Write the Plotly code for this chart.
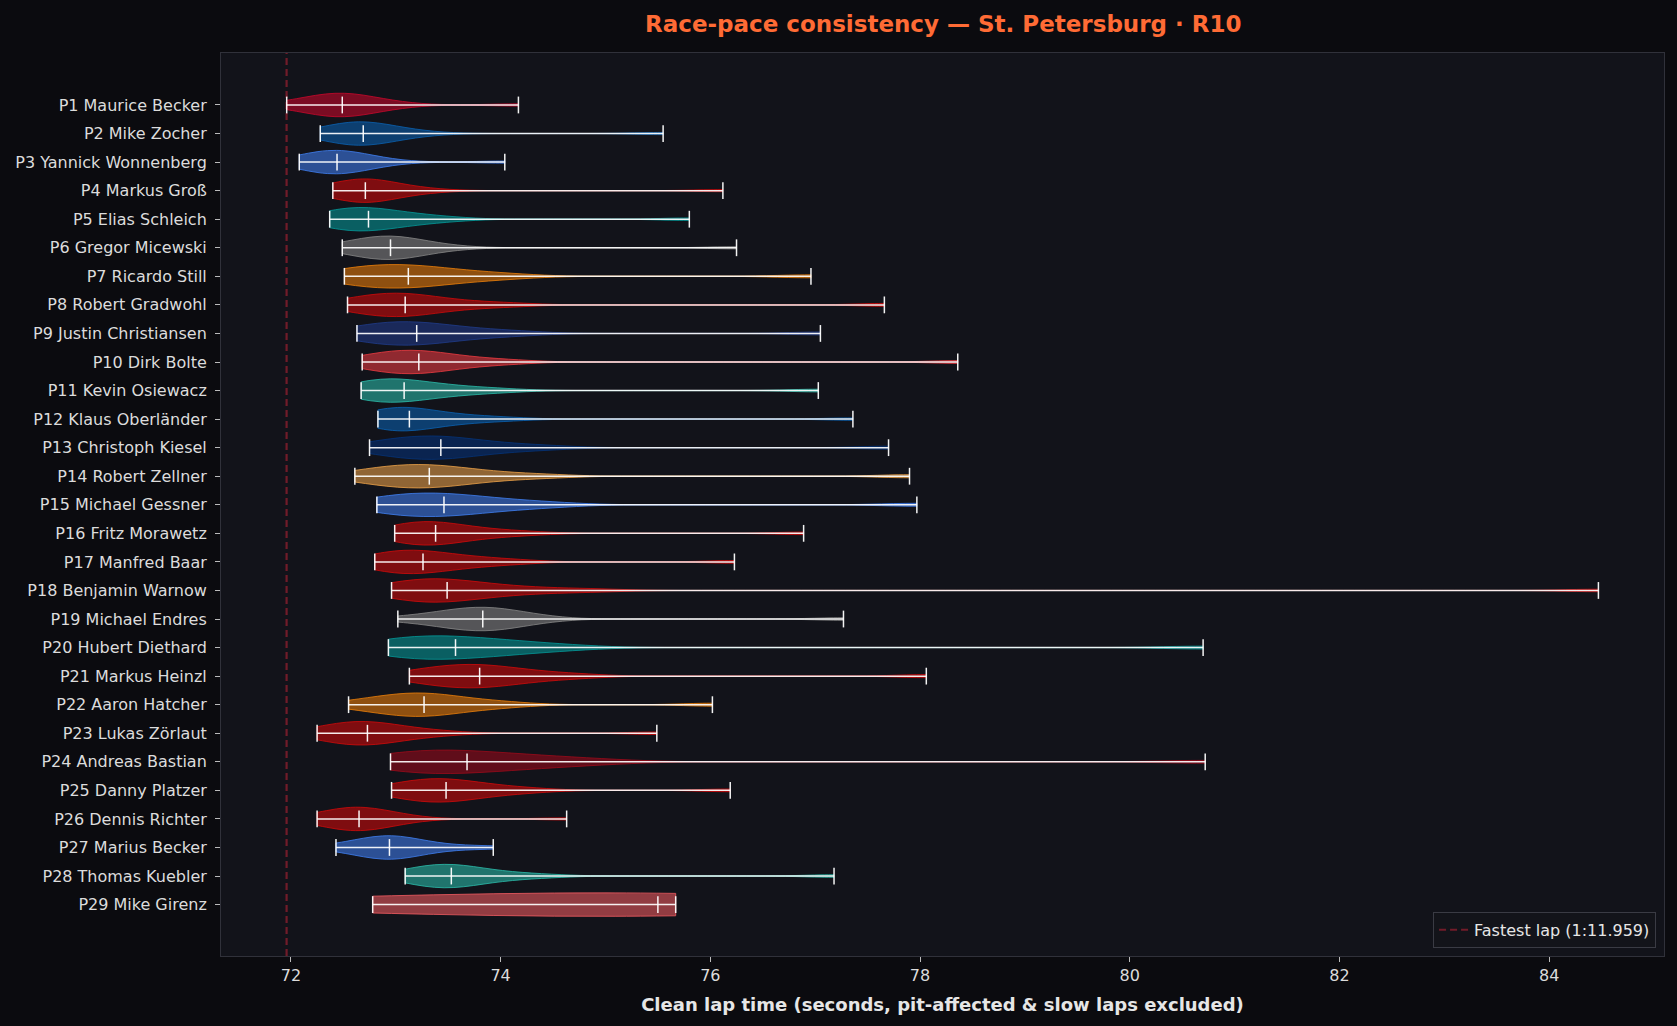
import numpy as np
import plotly.graph_objects as go

# finishing order, drivers
drivers = ["Maurice Becker", "Mike Zocher", "Yannick Wonnenberg", "Markus Groß",
           "Elias Schleich", "Gregor Micewski", "Ricardo Still", "Robert Gradwohl",
           "Justin Christiansen", "Dirk Bolte", "Kevin Osiewacz", "Klaus Oberländer",
           "Christoph Kiesel", "Robert Zellner", "Michael Gessner", "Fritz Morawetz",
           "Manfred Baar", "Benjamin Warnow", "Michael Endres", "Hubert Diethard",
           "Markus Heinzl", "Aaron Hatcher", "Lukas Zörlaut", "Andreas Bastian",
           "Danny Platzer", "Dennis Richter", "Marius Becker", "Thomas Kuebler",
           "Mike Girenz"]

# team colour per driver
colors = ["#c0082a", "#0a5eaa", "#3d7ae8", "#c80a0a", "#059393", "#828282",
          "#e27a0a", "#c80a0a", "#1f3985", "#e4393f", "#2ab5a5", "#0a5eaa",
          "#053174", "#e49c47", "#3d7ae8", "#c80a0a", "#c80a0a", "#c80a0a",
          "#828282", "#059393", "#c80a0a", "#e27a0a", "#c80a0a", "#940a1a",
          "#c80a0a", "#c80a0a", "#3d7ae8", "#2ab5a5", "#e8585e"]

# clean laps (seconds) per driver, same order as drivers
laps = [
    [71.96, 72.15, 72.25, 72.32, 72.38, 72.42, 72.46, 72.49, 72.52, 72.56, 72.62, 72.70, 72.82, 73.00, 74.17],
    [72.28, 72.40, 72.48, 72.54, 72.58, 72.62, 72.66, 72.69, 72.72, 72.76, 72.82, 72.90, 73.02, 73.25, 75.55],
    [72.08, 72.18, 72.25, 72.30, 72.34, 72.38, 72.41, 72.44, 72.47, 72.50, 72.55, 72.62, 72.72, 72.88, 74.04],
    [72.40, 72.50, 72.56, 72.61, 72.65, 72.68, 72.70, 72.71, 72.74, 72.78, 72.84, 72.92, 73.05, 73.30, 76.12],
    [72.37, 72.40, 72.45, 72.52, 72.58, 72.64, 72.70, 72.74, 72.80, 72.88, 72.98, 73.10, 73.25, 73.50, 75.80],
    [72.49, 72.60, 72.70, 72.78, 72.84, 72.89, 72.92, 72.95, 72.98, 73.02, 73.08, 73.16, 73.28, 73.50, 76.25],
    [72.51, 72.55, 72.65, 72.75, 72.85, 72.95, 73.05, 73.12, 73.20, 73.30, 73.42, 73.58, 73.80, 74.10, 76.96],
    [72.54, 72.62, 72.72, 72.82, 72.90, 72.98, 73.04, 73.09, 73.16, 73.25, 73.36, 73.52, 73.75, 74.10, 77.66],
    [72.63, 72.68, 72.78, 72.88, 72.98, 73.06, 73.14, 73.20, 73.28, 73.38, 73.50, 73.66, 73.88, 74.20, 77.05],
    [72.68, 72.76, 72.86, 72.95, 73.03, 73.10, 73.16, 73.22, 73.28, 73.36, 73.46, 73.60, 73.80, 74.10, 78.36],
    [72.67, 72.70, 72.76, 72.82, 72.88, 72.94, 73.00, 73.08, 73.15, 73.24, 73.35, 73.50, 73.70, 74.00, 77.03],
    [72.83, 72.86, 72.90, 72.95, 73.00, 73.05, 73.09, 73.13, 73.20, 73.28, 73.40, 73.55, 73.75, 74.05, 77.36],
    [72.75, 72.88, 73.00, 73.10, 73.20, 73.28, 73.36, 73.43, 73.50, 73.60, 73.72, 73.88, 74.10, 74.45, 77.70],
    [72.61, 72.75, 72.88, 72.98, 73.08, 73.16, 73.24, 73.32, 73.40, 73.50, 73.62, 73.78, 74.00, 74.40, 77.90],
    [72.82, 72.88, 72.98, 73.08, 73.18, 73.28, 73.38, 73.46, 73.55, 73.65, 73.78, 73.95, 74.18, 74.50, 77.97],
    [72.99, 73.04, 73.10, 73.16, 73.22, 73.28, 73.33, 73.38, 73.44, 73.52, 73.62, 73.76, 73.95, 74.25, 76.89],
    [72.80, 72.86, 72.93, 73.00, 73.06, 73.12, 73.19, 73.26, 73.33, 73.42, 73.54, 73.68, 73.88, 74.15, 76.23],
    [72.96, 73.00, 73.08, 73.16, 73.24, 73.32, 73.40, 73.45, 73.49, 73.58, 73.68, 73.80, 73.95, 74.15, 74.45, 74.90, 84.47],
    [73.02, 73.30, 73.45, 73.55, 73.63, 73.70, 73.77, 73.83, 73.88, 73.94, 74.00, 74.08, 74.20, 74.40, 77.27],
    [72.93, 72.96, 73.05, 73.15, 73.25, 73.36, 73.47, 73.57, 73.68, 73.80, 73.94, 74.10, 74.32, 74.65, 80.70],
    [73.13, 73.25, 73.38, 73.48, 73.57, 73.65, 73.73, 73.80, 73.88, 73.97, 74.08, 74.22, 74.42, 74.75, 78.06],
    [72.55, 72.75, 72.88, 72.98, 73.06, 73.14, 73.21, 73.27, 73.34, 73.42, 73.52, 73.65, 73.84, 74.10, 76.02],
    [72.25, 72.35, 72.44, 72.51, 72.57, 72.63, 72.68, 72.73, 72.78, 72.85, 72.93, 73.04, 73.20, 73.45, 75.49],
    [72.95, 73.02, 73.12, 73.22, 73.32, 73.42, 73.55, 73.68, 73.80, 73.95, 74.12, 74.32, 74.58, 74.95, 80.72],
    [72.96, 73.05, 73.14, 73.22, 73.30, 73.37, 73.43, 73.48, 73.54, 73.62, 73.72, 73.85, 74.02, 74.30, 76.19],
    [72.25, 72.36, 72.44, 72.50, 72.55, 72.59, 72.62, 72.65, 72.68, 72.72, 72.77, 72.84, 72.94, 73.10, 74.63],
    [72.43, 72.62, 72.74, 72.82, 72.88, 72.91, 72.93, 72.94, 72.97, 73.00, 73.05, 73.12, 73.25, 73.55, 73.93],
    [73.09, 73.18, 73.27, 73.34, 73.40, 73.46, 73.50, 73.53, 73.58, 73.66, 73.76, 73.90, 74.08, 74.40, 77.18],
    [72.78, 75.50, 75.67],
]

fastest = 71.959

BG = "#0b0b0f"
PANEL = "#12131a"
TXT = "#dcdcdc"


def rgba(hexcol, a):
    h = hexcol.lstrip("#")
    r, g, b = int(h[0:2], 16), int(h[2:4], 16), int(h[4:6], 16)
    return f"rgba({r},{g},{b},{a})"


def bandwidth(v):
    v = np.asarray(v, dtype=float)
    n = len(v)
    sd = v.std(ddof=1)
    if n < 5:
        return 1.25 * sd  # very few laps -> smooth it out
    q1, q3 = np.percentile(v, [25, 75])
    return max(0.28, 1.06 * min(sd, (q3 - q1) / 1.34) * n ** -0.2)


fig = go.Figure()
pos = list(range(1, len(drivers) + 1))

for i, name in enumerate(drivers):
    v = laps[i]
    fig.add_trace(go.Violin(
        x=v, y0=pos[i], orientation="h", name=name,
        side="both", width=0.82, scalemode="width", spanmode="hard",
        bandwidth=bandwidth(v), points=False,
        box_visible=False, meanline_visible=False,
        fillcolor=rgba(colors[i], 0.6),
        line=dict(color=rgba(colors[i], 0.85), width=1),
        showlegend=False, hoverinfo="skip",
    ))
    lo, med, hi = min(v), float(np.median(v)), max(v)
    fig.add_trace(go.Scatter(
        x=[lo, med, hi], y=[pos[i]] * 3, mode="lines+markers",
        line=dict(color="rgba(255,255,255,0.92)", width=1.5),
        marker=dict(symbol="line-ns", size=12,
                    line=dict(color="rgba(255,255,255,0.95)", width=1.5)),
        showlegend=False, hoverinfo="skip",
    ))

m = int(fastest // 60)
s = fastest - 60 * m
lap_label = f"Fastest lap ({m}:{s:06.3f})"
dash_style = dict(color="rgba(118,28,42,0.95)", width=2.2, dash="7px,4px")
fig.add_vline(x=fastest, line=dash_style, layer="below")
fig.add_trace(go.Scatter(x=[None], y=[None], mode="lines", line=dash_style,
                         name=lap_label, showlegend=True))

all_laps = [t for v in laps for t in v] + [fastest]
lo_all, hi_all = min(all_laps), max(all_laps)
span = hi_all - lo_all

fig.update_layout(
    width=1677, height=1026,
    paper_bgcolor=BG, plot_bgcolor=PANEL,
    margin=dict(l=221, r=13, t=53, b=70),
    violinmode="overlay",
    font=dict(family="DejaVu Sans", size=16, color=TXT),
    title=dict(text="<b>Race-pace consistency — St. Petersburg · R10</b>",
               x=0.5625, xanchor="center", y=0.977, yanchor="middle",
               font=dict(size=23, color="#ff6b35")),
    legend=dict(x=0.9945, y=0.009, xanchor="right", yanchor="bottom",
                bgcolor="#13141a", bordercolor="#3a3b44", borderwidth=1,
                font=dict(size=16, color="#e6e6e6")),
    showlegend=True,
)
fig.update_xaxes(
    range=[lo_all - 0.05 * span, hi_all + 0.05 * span],
    tickmode="linear", tick0=72, dtick=2,
    showgrid=False, zeroline=False,
    showline=True, linecolor="#30313a", linewidth=1, mirror=True,
    ticks="outside", ticklen=5, tickcolor="#bbbbbb",
    tickfont=dict(size=16, color=TXT),
    title=dict(text="<b>Clean lap time (seconds, pit-affected & slow laps excluded)</b>",
               font=dict(size=18, color="#e6e6e6"), standoff=14),
)
fig.update_yaxes(
    range=[len(drivers) + 1.8, 1 - 1.82],
    tickmode="array", tickvals=pos,
    ticktext=[f"P{p} {d}" for p, d in zip(pos, drivers)],
    showgrid=False, zeroline=False,
    showline=True, linecolor="#30313a", linewidth=1, mirror=True,
    ticks="outside", ticklen=5, tickcolor="#bbbbbb", ticklabelstandoff=5,
    tickfont=dict(size=16, color=TXT), automargin=False,
)

fig.write_html("out.html", config={"displayModeBar": False}, post_script=(
    "document.body.style.margin='0';"
    "document.body.style.background='" + BG + "';"
))
